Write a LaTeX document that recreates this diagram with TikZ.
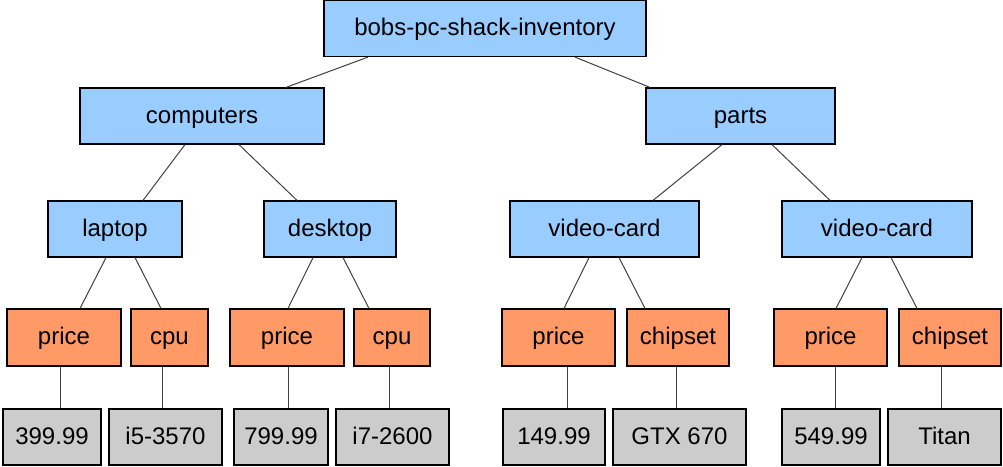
\documentclass[tikz,border=0pt]{standalone}
\usepackage{fontspec}
\setmainfont{Liberation Sans}
\usetikzlibrary{positioning}
\definecolor{keyblue}{HTML}{99CCFF}
\definecolor{fieldorange}{HTML}{FF9966}
\definecolor{valgrey}{HTML}{CCCCCC}
\tikzset{
  box/.style={draw, line width=1.2pt, inner sep=0pt, minimum height=56pt, text height=18pt, text depth=4pt, font=\fontsize{24}{28}\selectfont},
  key/.style={box, fill=keyblue},
  field/.style={box, fill=fieldorange, minimum height=57pt},
  val/.style={box, fill=valgrey},
  link/.style={draw=black!75, line width=1pt}
}
\begin{document}
\begin{tikzpicture}[x=1pt, y=-1pt]
\useasboundingbox (0,0) rectangle (1003,466);
% keys
\node[key, minimum width=322pt] (root) at (485,28.5) {bobs-pc-shack-inventory};
\node[key, minimum width=244pt] (comp) at (202,116) {computers};
\node[key, minimum width=189pt] (parts) at (740.5,116) {parts};
\node[key, minimum width=134pt] (laptop) at (115,229) {laptop};
\node[key, minimum width=132pt] (desktop) at (330,229) {desktop};
\node[key, minimum width=189pt] (vcA) at (604.5,229) {video-card};
\node[key, minimum width=190pt] (vcB) at (877,229) {video-card};

% fields
\node[field, minimum width=114pt] (priceA) at (64,337.5) {price};
\node[field, minimum width=77pt] (cpuA) at (169.5,337.5) {cpu};
\node[field, minimum width=114pt] (priceB) at (287,337.5) {price};
\node[field, minimum width=76pt] (cpuB) at (392,337.5) {cpu};
\node[field, minimum width=113pt] (priceC) at (558.5,337.5) {price};
\node[field, minimum width=102pt] (chipC) at (678,337.5) {chipset};
\node[field, minimum width=113pt] (priceD) at (830.5,337.5) {price};
\node[field, minimum width=102pt] (chipD) at (950,337.5) {chipset};

% values
\node[val, minimum width=98pt] (valA) at (52,437) {399.99};
\node[val, minimum width=113pt] (valB) at (165.5,437) {i5-3570};
\node[val, minimum width=94pt] (valC) at (281,437) {799.99};
\node[val, minimum width=113pt] (valD) at (392.5,437) {i7-2600};
\node[val, minimum width=102pt] (valE) at (554,437) {149.99};
\node[val, minimum width=133pt] (valF) at (679.5,437) {GTX 670};
\node[val, minimum width=98pt] (valG) at (831,437) {549.99};
\node[val, minimum width=113pt] (valH) at (944.5,437) {Titan};

% links
\draw[link] ([xshift=-117pt]root.south) -- ([xshift=84pt]comp.north);
\draw[link] ([xshift=90pt]root.south) -- ([xshift=-90.5pt]parts.north);
\draw[link] ([xshift=-17pt]comp.south) -- ([xshift=28pt]laptop.north);
\draw[link] ([xshift=37pt]comp.south) -- ([xshift=-33pt]desktop.north);
\draw[link] ([xshift=-18.5pt]parts.south) -- ([xshift=48.5pt]vcA.north);
\draw[link] ([xshift=31.5pt]parts.south) -- ([xshift=-47pt]vcB.north);
\draw[link] ([xshift=-9pt]laptop.south) -- ([xshift=16pt]priceA.north);
\draw[link] ([xshift=20pt]laptop.south) -- ([xshift=-8.5pt]cpuA.north);
\draw[link] ([xshift=-17pt]desktop.south) -- ([xshift=1pt]priceB.north);
\draw[link] ([xshift=13pt]desktop.south) -- ([xshift=-23pt]cpuB.north);
\draw[link] ([xshift=-15.5pt]vcA.south) -- ([xshift=5.5pt]priceC.north);
\draw[link] ([xshift=14.5pt]vcA.south) -- ([xshift=-33pt]chipC.north);
\draw[link] ([xshift=-15pt]vcB.south) -- ([xshift=5.5pt]priceD.north);
\draw[link] ([xshift=14pt]vcB.south) -- ([xshift=-33pt]chipD.north);
\draw[link] ([xshift=-4pt]priceA.south) -- ([xshift=8pt]valA.north);
\draw[link] ([xshift=-7.5pt]cpuA.south) -- ([xshift=-3.5pt]valB.north);
\draw[link] ([xshift=1pt]priceB.south) -- ([xshift=7pt]valC.north);
\draw[link] ([xshift=-3pt]cpuB.south) -- ([xshift=-3.5pt]valD.north);
\draw[link] ([xshift=8.5pt]priceC.south) -- ([xshift=13pt]valE.north);
\draw[link] ([xshift=-2pt]chipC.south) -- ([xshift=-3.5pt]valF.north);
\draw[link] ([xshift=4.5pt]priceD.south) -- ([xshift=4pt]valG.north);
\draw[link] ([xshift=-9pt]chipD.south) -- ([xshift=-3.5pt]valH.north);
\end{tikzpicture}
\end{document}
